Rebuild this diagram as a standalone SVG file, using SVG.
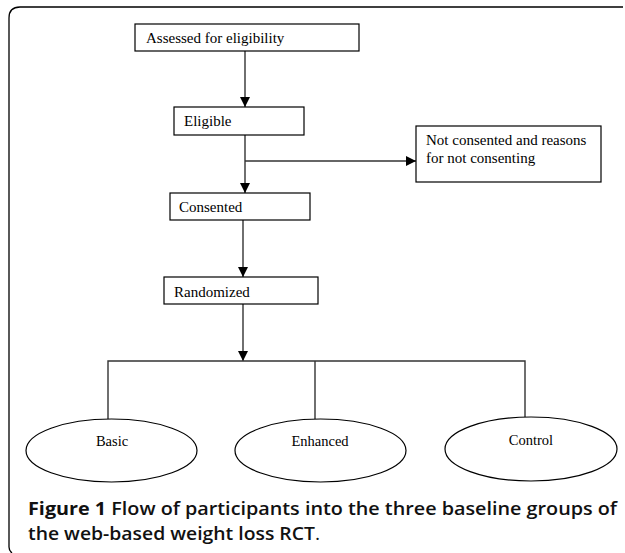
<svg xmlns="http://www.w3.org/2000/svg" width="625" height="553" viewBox="0 0 625 553">
<style>
.box{fill:#fff;stroke:#000;stroke-width:1.2}
.ell{fill:#fff;stroke:#000;stroke-width:1.2}
.t{font-family:"Liberation Serif","Times New Roman",serif;font-size:15px;fill:#000}
.c{font-family:"Liberation Serif","Times New Roman",serif;font-size:14.5px;fill:#000;text-anchor:middle}
.ln{fill:none;stroke:#333;stroke-width:1.4}
.cap{font-family:"Open Sans","Noto Sans",sans-serif;font-size:17.5px;fill:#111}
</style>
<defs>
<marker id="ah" markerUnits="userSpaceOnUse" markerWidth="10" markerHeight="10" refX="10" refY="5" orient="auto">
<path d="M0,0 L10,5 L0,10 z" fill="#000"/>
</marker>
</defs>
<rect width="625" height="553" fill="#fff"/>
<path d="M623 7 H20 Q9 7 9 18 V547 Q9 551 12 553" fill="none" stroke="#000" stroke-width="1.3"/>
<g id="connectors">
<line class="ln" x1="245" y1="51" x2="245" y2="107" marker-end="url(#ah)"/>
<line class="ln" x1="245" y1="135" x2="245" y2="193" marker-end="url(#ah)"/>
<line class="ln" x1="245" y1="161" x2="416" y2="161" marker-end="url(#ah)"/>
<line class="ln" x1="243" y1="220" x2="243" y2="277" marker-end="url(#ah)"/>
<line class="ln" x1="243" y1="304" x2="243" y2="361" marker-end="url(#ah)"/>
<polyline class="ln" points="108,419 108,361 525,361 525,417"/>
<line class="ln" x1="315" y1="361" x2="315" y2="419"/>
</g>
<g id="assessed">
<rect class="box" x="135" y="24" width="224" height="27"/>
<text class="t" x="146" y="43">Assessed for eligibility</text>
</g>
<g id="eligible">
<rect class="box" x="174" y="107" width="130" height="28"/>
<text class="t" x="184" y="126">Eligible</text>
</g>
<g id="notconsented">
<rect class="box" x="416" y="126" width="185" height="56"/>
<text class="t" x="426" y="145">Not consented and reasons</text>
<text class="t" x="426" y="163">for not consenting</text>
</g>
<g id="consented">
<rect class="box" x="170" y="193" width="140" height="27"/>
<text class="t" x="179" y="212">Consented</text>
</g>
<g id="randomized">
<rect class="box" x="164" y="277" width="154" height="27"/>
<text class="t" x="174" y="297">Randomized</text>
</g>
<g id="basic">
<ellipse class="ell" cx="111.5" cy="450.5" rx="85.5" ry="31.5"/>
<text class="c" x="112" y="446">Basic</text>
</g>
<g id="enhanced">
<ellipse class="ell" cx="320.5" cy="450.5" rx="85.5" ry="31.5"/>
<text class="c" x="320" y="446">Enhanced</text>
</g>
<g id="control">
<ellipse class="ell" cx="531" cy="449" rx="86" ry="32"/>
<text class="c" x="531" y="445">Control</text>
</g>
<g id="caption">
<text class="cap" x="28" y="515" textLength="589" lengthAdjust="spacingAndGlyphs"><tspan font-weight="700">Figure 1</tspan><tspan font-weight="600"> Flow of participants into the three baseline groups of</tspan></text>
<text class="cap" x="28" y="540" textLength="292" lengthAdjust="spacingAndGlyphs"><tspan font-weight="600">the web-based weight loss RCT</tspan><tspan font-weight="400">.</tspan></text>
</g>
</svg>
